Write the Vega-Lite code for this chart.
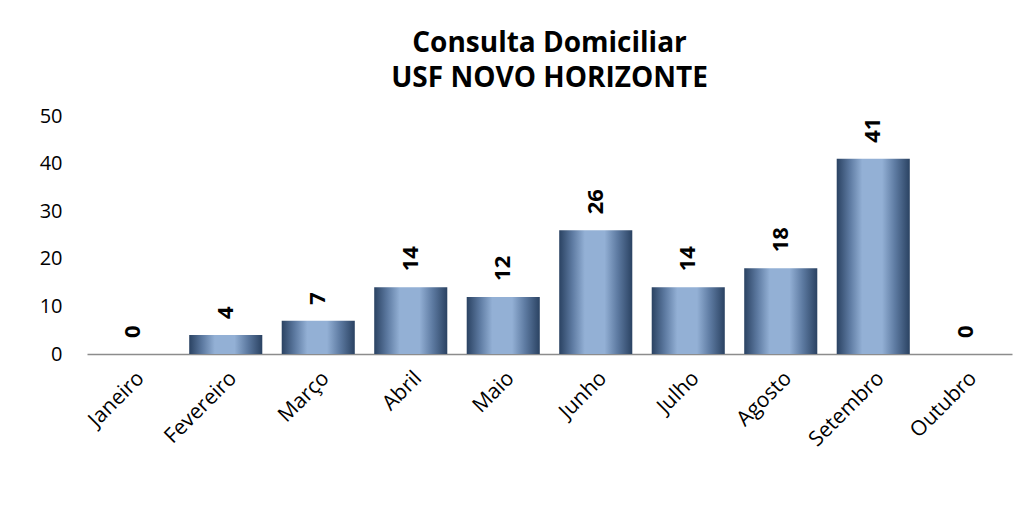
{
  "$schema": "https://vega.github.io/schema/vega-lite/v6.json",
  "autosize": {"type": "none"},
  "padding": {"left": 87, "top": 116, "right": 14, "bottom": 152},
  "width": 925,
  "height": 238,
  "background": "white",
  "config": {"view": {"stroke": null}, "font": "Open Sans"},
  "title": {
    "text": ["Consulta Domiciliar", "USF NOVO HORIZONTE"],
    "fontSize": 28,
    "fontWeight": "bold",
    "font": "Open Sans",
    "color": "#000000",
    "lineHeight": 35,
    "anchor": "middle",
    "offset": 13
  },
  "data": {
    "values": [
      {"mes": "Janeiro", "valor": 0},
      {"mes": "Fevereiro", "valor": 4},
      {"mes": "Março", "valor": 7},
      {"mes": "Abril", "valor": 14},
      {"mes": "Maio", "valor": 12},
      {"mes": "Junho", "valor": 26},
      {"mes": "Julho", "valor": 14},
      {"mes": "Agosto", "valor": 18},
      {"mes": "Setembro", "valor": 41},
      {"mes": "Outubro", "valor": 0}
    ]
  },
  "encoding": {
    "x": {
      "field": "mes",
      "type": "nominal",
      "sort": null,
      "scale": {"paddingInner": 0.21, "paddingOuter": 0.105},
      "axis": {
        "title": null,
        "labelAngle": -45,
        "labelFontSize": 21,
        "labelFont": "Open Sans",
        "labelColor": "#000000",
        "labelPadding": 13,
        "ticks": false,
        "domainColor": "#8c8c8c",
        "domainWidth": 1.5,
        "grid": false
      }
    },
    "y": {
      "field": "valor",
      "type": "quantitative",
      "scale": {"domain": [0, 50]},
      "axis": {
        "title": null,
        "values": [0, 10, 20, 30, 40, 50],
        "labelFontSize": 20,
        "labelFont": "Open Sans",
        "labelColor": "#000000",
        "labelPadding": 25,
        "ticks": false,
        "domain": false,
        "grid": false
      }
    }
  },
  "layer": [
    {
      "mark": {
        "type": "bar",
        "color": {
          "gradient": "linear",
          "x1": 0, "x2": 1, "y1": 0, "y2": 0,
          "stops": [
            {"offset": 0, "color": "#2a4262"},
            {"offset": 0.18, "color": "#5d7aa1"},
            {"offset": 0.35, "color": "#93b0d5"},
            {"offset": 0.62, "color": "#93b0d5"},
            {"offset": 0.8, "color": "#5d7aa1"},
            {"offset": 1, "color": "#2a4262"}
          ]
        }
      }
    },
    {
      "mark": {
        "type": "text",
        "angle": 270,
        "align": "left",
        "baseline": "middle",
        "dx": 16,
        "fontSize": 22,
        "fontWeight": "bold",
        "font": "Open Sans",
        "color": "#000000"
      },
      "encoding": {"text": {"field": "valor", "type": "quantitative"}}
    }
  ]
}
